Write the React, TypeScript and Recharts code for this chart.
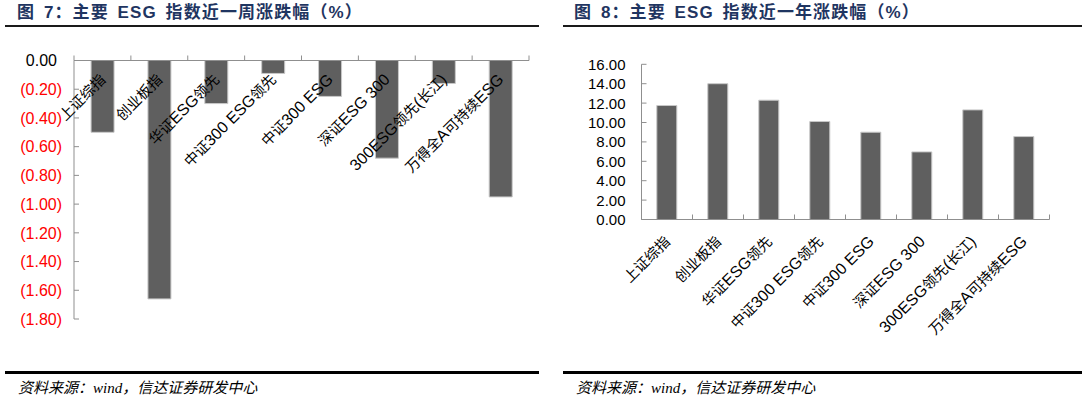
import React from "react";
import { BarChart, Bar, XAxis, YAxis } from "recharts";

const categories = [
  "上证综指",
  "创业板指",
  "华证ESG领先",
  "中证300 ESG领先",
  "中证300 ESG",
  "深证ESG 300",
  "300ESG领先(长江)",
  "万得全A可持续ESG",
];
const weekChange = [-0.5, -1.66, -0.3, -0.09, -0.25, -0.68, -0.16, -0.95];
const yearChange = [11.75, 14.0, 12.3, 10.1, 9.0, 6.97, 11.3, 8.55];
const weekTicks = [0, -0.2, -0.4, -0.6, -0.8, -1.0, -1.2, -1.4, -1.6, -1.8];
const yearTicks = [0, 2, 4, 6, 8, 10, 12, 14, 16];
const edgeTicks = [0, 1, 2, 3, 4, 5, 6, 7, 8];

const weekData = categories.map((name, i) => ({ name, value: weekChange[i], pos: i + 0.5 }));
const yearData = categories.map((name, i) => ({ name, value: yearChange[i], pos: i + 0.5 }));

const AXIS = "#8f8f8f";
const BAR = "#5f5f5f";
const LABEL_FONT = "'Liberation Sans', 'Noto Sans CJK SC', sans-serif";
const TITLE_COLOR = "#1f3561";

// Excel mixes a smaller song-style CJK face with larger Arial digits/letters
function CategoryTick(props: any) {
  const { x, y, payload, dx, dy } = props;
  const tx = x + dx;
  const ty = y + dy;
  const runs: string[] = String(payload.value).match(/[\u4e00-\u9fff]+|[^\u4e00-\u9fff]+/g) || [];
  return (
    <text
      x={tx}
      y={ty}
      transform={`rotate(-45 ${tx} ${ty})`}
      textAnchor="end"
      fontFamily={LABEL_FONT}
      fill="#000"
    >
      {runs.map((r, i) => (
        <tspan key={i} fontSize={/[\u4e00-\u9fff]/.test(r) ? 14.5 : 16}>
          {r}
        </tspan>
      ))}
    </text>
  );
}

function EdgeTick(props: any) {
  const { x, y, base } = props;
  return <line x1={x} x2={x} y1={y + base} y2={y + base - 5} stroke={AXIS} strokeWidth={1} />;
}

function ValueTick(props: any) {
  const { x, y, payload, gap, fontSize, negRed } = props;
  const v = payload.value as number;
  const neg = v < 0;
  const text = neg ? `(${Math.abs(v).toFixed(2)})` : v.toFixed(2);
  return (
    <g>
      <line x1={x} x2={x + 5} y1={y} y2={y} stroke={AXIS} strokeWidth={1} />
      <text
        x={neg ? x - gap : x - gap - 5}
        y={y}
        dy="0.36em"
        textAnchor="end"
        fontSize={fontSize}
        fontFamily={LABEL_FONT}
        fill={neg && negRed ? "#ff0000" : "#000"}
      >
        {text}
      </text>
    </g>
  );
}

const titleStyle: React.CSSProperties = {
  position: "absolute",
  top: 4,
  fontFamily: "'Liberation Sans', 'Noto Sans CJK SC', sans-serif",
  fontWeight: "bold",
  fontSize: 17,
  lineHeight: "18px",
  letterSpacing: 1.1,
  wordSpacing: 3,
  color: TITLE_COLOR,
  whiteSpace: "nowrap",
};

const sourceStyle: React.CSSProperties = {
  position: "absolute",
  top: 379,
  fontFamily: "'Liberation Serif', 'Noto Sans CJK SC', serif",
  fontStyle: "italic",
  fontSize: 15,
  lineHeight: "18px",
  color: "#000",
  whiteSpace: "nowrap",
};

function Rule({ left, right, top, h, color }: any) {
  return (
    <div
      style={{ position: "absolute", left, top, width: right - left, height: h, background: color }}
    />
  );
}

export default function App() {
  return (
    <div
      style={{
        position: "absolute",
        left: 0,
        top: 0,
        width: 1088,
        height: 402,
        background: "#fff",
        overflow: "hidden",
      }}
    >
      <div style={{ ...titleStyle, left: 17 }}>图 7：主要 ESG 指数近一周涨跌幅（%）</div>
      <div style={{ ...titleStyle, left: 574 }}>图 8：主要 ESG 指数近一年涨跌幅（%）</div>
      <Rule left={5} right={539} top={25} h={2} color="#1a1a1a" />
      <Rule left={563} right={1082} top={25} h={2} color="#1a1a1a" />
      <Rule left={5} right={539} top={371} h={3} color="#000" />
      <Rule left={563} right={1082} top={371} h={3} color="#000" />
      <div style={{ ...sourceStyle, left: 18 }}>资料来源：wind，信达证券研发中心</div>
      <div style={{ ...sourceStyle, left: 576 }}>资料来源：wind，信达证券研发中心</div>

      <div style={{ position: "absolute", left: 0, top: 0 }}>
        <BarChart
          width={544}
          height={402}
          data={weekData}
          margin={{ top: 58.5, right: 15, bottom: 83, left: 14 }}
          barCategoryGap="30%"
        >
          <XAxis
            xAxisId="cat"
            dataKey="name"
            orientation="top"
            height={1}
            interval={0}
            tickSize={0}
            tickMargin={0}
            tickLine={false}
            axisLine={{ stroke: AXIS }}
            tick={(p: any) => <CategoryTick {...p} dx={4} dy={20} />}
          />
          <XAxis
            xAxisId="edge"
            dataKey="pos"
            type="number"
            orientation="top"
            height={1}
            domain={[0, 8]}
            ticks={edgeTicks}
            allowDataOverflow
            interval={0}
            tickSize={0}
            tickMargin={0}
            tickLine={false}
            axisLine={false}
            tick={(p: any) => <EdgeTick {...p} base={1} />}
          />
          <YAxis
            type="number"
            domain={[-1.8, 0]}
            ticks={weekTicks}
            interval={0}
            width={60}
            tickSize={0}
            tickMargin={0}
            tickLine={false}
            axisLine={{ stroke: AXIS }}
            tick={(p: any) => <ValueTick {...p} gap={12} fontSize={16} negRed />}
          />
          <Bar
            xAxisId="cat"
            dataKey="value"
            fill={BAR}
            stroke="#c8c8c8"
            strokeWidth={1}
            isAnimationActive={false}
          />
        </BarChart>
      </div>

      <div style={{ position: "absolute", left: 544, top: 0 }}>
        <BarChart
          width={544}
          height={402}
          data={yearData}
          margin={{ top: 64.3, right: 38.5, bottom: 180.5, left: 37.5 }}
          barCategoryGap="30%"
        >
          <XAxis
            xAxisId="cat"
            dataKey="name"
            height={1}
            interval={0}
            tickSize={0}
            tickMargin={0}
            tickLine={false}
            axisLine={{ stroke: AXIS }}
            tick={(p: any) => <CategoryTick {...p} dx={4} dy={23} />}
          />
          <XAxis
            xAxisId="edge"
            dataKey="pos"
            type="number"
            height={1}
            domain={[0, 8]}
            ticks={edgeTicks}
            allowDataOverflow
            interval={0}
            tickSize={0}
            tickMargin={0}
            tickLine={false}
            axisLine={false}
            tick={(p: any) => <EdgeTick {...p} base={-1} />}
          />
          <YAxis
            type="number"
            domain={[0, 16]}
            ticks={yearTicks}
            interval={0}
            width={60}
            tickSize={0}
            tickMargin={0}
            tickLine={false}
            axisLine={{ stroke: AXIS }}
            tick={(p: any) => <ValueTick {...p} gap={11} fontSize={15} />}
          />
          <Bar
            xAxisId="cat"
            dataKey="value"
            fill={BAR}
            stroke="#c8c8c8"
            strokeWidth={1}
            isAnimationActive={false}
          />
        </BarChart>
      </div>
    </div>
  );
}
